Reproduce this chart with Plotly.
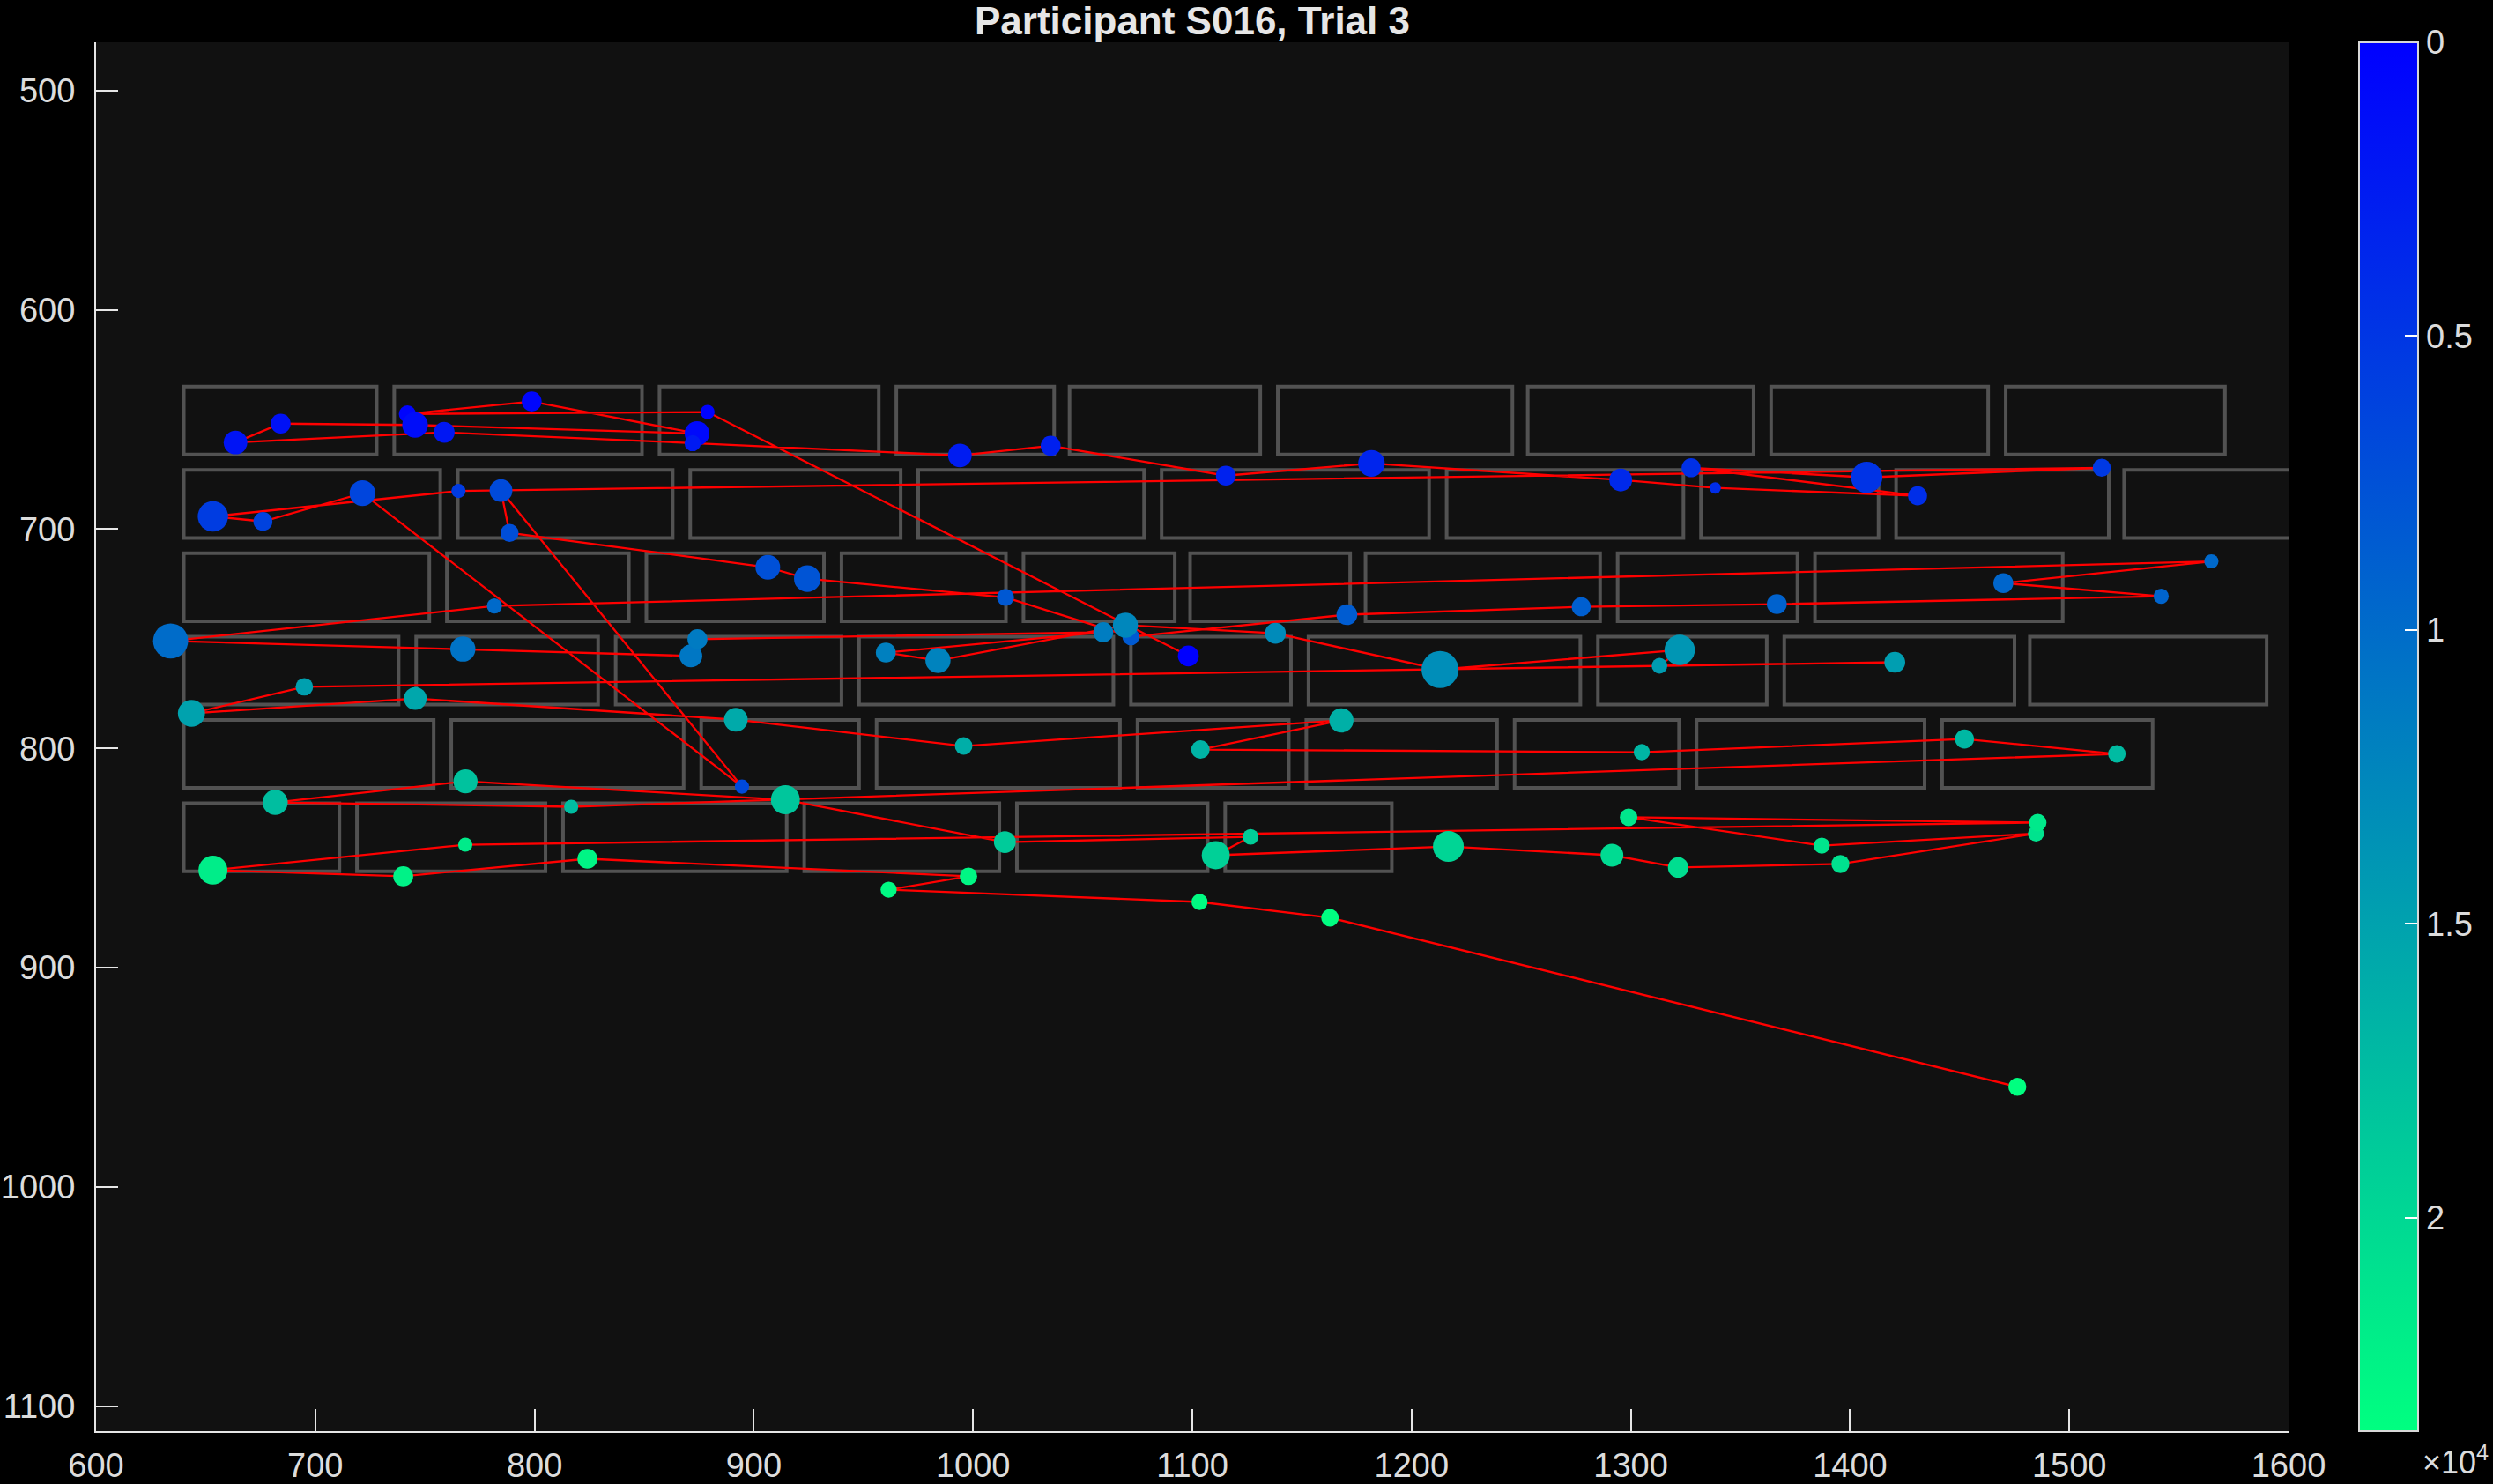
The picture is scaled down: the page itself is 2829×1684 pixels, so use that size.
import plotly.graph_objects as go

FONT = "Liberation Sans, Arial, Helvetica, sans-serif"

# ---- word boxes (text layout) ----
row_top = [635, 673, 711, 749, 787, 825]
row_bottom = [666, 704, 742, 780, 818, 856]
box_left = [
    [640, 736, 857, 965, 1044, 1139, 1253, 1364, 1471],
    [640, 765, 871, 975, 1086, 1216, 1332, 1421, 1525],
    [640, 760, 851, 940, 1023, 1099, 1179, 1294, 1384],
    [640, 746, 837, 948, 1072, 1153, 1285, 1370, 1482],
    [640, 762, 876, 956, 1075, 1152, 1247, 1330, 1442],
    [640, 719, 813, 923, 1020, 1115],
]
box_right = [
    [728, 849, 957, 1037, 1131, 1246, 1356, 1463, 1571],
    [757, 863, 967, 1078, 1208, 1324, 1413, 1518, 1630],
    [752, 843, 932, 1015, 1092, 1172, 1286, 1376, 1497],
    [738, 829, 940, 1064, 1145, 1277, 1362, 1475, 1590],
    [754, 868, 948, 1067, 1144, 1239, 1322, 1434, 1538],
    [711, 805, 915, 1012, 1107, 1191],
]

# ---- fixations in temporal order ----
fix_x = [1098.2, 878.9, 742.0, 798.7, 874.1, 745.5, 684.2, 663.6, 758.8, 872.1,
         994.0, 1035.4, 1115.3, 1181.7, 1295.4, 1338.5, 1430.8, 1327.5, 1407.6, 1514.8,
         765.3, 653.3, 676.1, 721.5, 894.6, 784.7, 788.6, 906.4, 924.4, 1014.8,
         1072.0, 1170.5, 1277.4, 1366.6, 1541.9, 1469.9, 1564.8, 781.7, 634.0, 767.3,
         871.3, 874.3, 1059.4, 960.2, 984.0, 1069.5, 1137.9, 1213.0, 1322.3, 1313.1,
         1420.4, 695.0, 643.5, 745.6, 891.8, 995.7, 1168.0, 1103.7, 1305.0, 1452.2,
         1521.7, 816.7, 681.7, 768.5, 914.4, 1014.5, 1126.6, 1110.7, 1216.8, 1291.4,
         1321.6, 1395.6, 1484.8, 1387.1, 1299.0, 1485.6, 768.4, 653.3, 740.1, 824.1,
         997.9, 961.5, 1103.3, 1162.8, 1476.3]
fix_y = [757.8, 646.6, 647.5, 641.8, 656.4, 652.5, 651.9, 660.5, 655.9, 660.8,
         666.4, 662.0, 675.6, 670.0, 677.6, 681.2, 684.8, 672.0, 676.4, 672.0,
         682.6, 694.2, 696.5, 683.6, 817.4, 682.4, 701.7, 717.4, 722.6, 731.1,
         749.1, 739.0, 735.4, 734.2, 730.6, 724.6, 714.7, 735.0, 751.0, 754.7,
         757.8, 750.2, 747.0, 756.3, 759.9, 743.8, 747.5, 764.0, 755.1, 762.3,
         760.7, 771.9, 784.0, 777.2, 786.9, 798.9, 787.2, 800.5, 801.7, 795.7,
         802.5, 826.6, 824.6, 815.0, 823.4, 842.7, 840.3, 848.7, 844.7, 848.7,
         854.3, 852.7, 838.8, 844.3, 831.4, 833.8, 843.9, 855.5, 858.3, 850.3,
         858.3, 864.4, 870.0, 877.2, 954.3]
fix_t = [0, 266, 402, 588, 832, 1194, 1583, 1827, 2163, 2429,
         2598, 2934, 3178, 3422, 3838, 4150, 4246, 4470, 4694, 5263,
         5467, 5603, 6139, 6363, 6752, 6888, 7200, 7404, 7766, 8182,
         8368, 8554, 8820, 9044, 9288, 9440, 9684, 9820, 9972, 10681,
         11056, 11368, 11612, 11856, 12100, 12475, 12850, 13116, 13900, 14436,
         14596, 14862, 15057, 15487, 15799, 16135, 16330, 16679, 16893, 17062,
         17286, 17481, 17617, 17992, 18341, 18830, 19119, 19279, 19738, 20290,
         20602, 20857, 21061, 21230, 21399, 21594, 21789, 21925, 22414, 22658,
         22902, 23097, 23266, 23435, 23630]
fix_dur = [242, 112, 162, 220, 338, 365, 220, 312, 242, 145,
           312, 220, 220, 392, 288, 72, 200, 200, 545, 180,
           112, 512, 200, 365, 112, 288, 180, 338, 392, 162,
           162, 242, 200, 220, 128, 220, 112, 128, 685, 351,
           288, 220, 220, 220, 351, 351, 242, 760, 512, 136,
           242, 171, 406, 288, 312, 171, 325, 190, 145, 200,
           171, 112, 351, 325, 465, 265, 136, 435, 528, 288,
           231, 180, 145, 145, 171, 171, 112, 465, 220, 220,
           171, 145, 145, 171, 180]

x_ticks = [600, 700, 800, 900, 1000, 1100, 1200, 1300, 1400, 1500, 1600]
y_ticks = [500, 600, 700, 800, 900, 1000, 1100]
cbar_tick_t = [0, 5000, 10000, 15000, 20000]
cbar_tick_text = ["0", "0.5", "1", "1.5", "2"]

T_MAX = max(fix_t)

fig = go.Figure()

for r in range(len(row_top)):
    for x0, x1 in zip(box_left[r], box_right[r]):
        fig.add_shape(type="rect", xref="x", yref="y", x0=x0, x1=x1,
                      y0=row_top[r], y1=row_bottom[r],
                      line=dict(color="#525252", width=4), layer="below")

fig.add_trace(go.Scatter(x=fix_x, y=fix_y, mode="lines",
                         line=dict(color="#ff0000", width=2.3),
                         hoverinfo="skip", showlegend=False))

neg_t = [-t for t in fix_t]
plot_l, plot_r, plot_t, plot_b = 109, 2597, 48, 1624
pw = plot_r - plot_l
ph = plot_b - plot_t

fig.add_trace(go.Scatter(
    x=fix_x, y=fix_y, mode="markers", showlegend=False,
    marker=dict(
        size=fix_dur, sizemode="area", sizeref=2 * max(fix_dur) / 42 ** 2,
        color=neg_t, cmin=-T_MAX, cmax=0,
        colorscale=[[0, "rgb(0,255,128)"], [1, "rgb(0,0,255)"]],
        line=dict(width=0), opacity=1,
        colorbar=dict(
            thickness=67, thicknessmode="pixels", len=1, lenmode="fraction",
            x=(2677 - plot_l) / pw, xanchor="left", y=0.5, yanchor="middle",
            xpad=0, ypad=0, outlinecolor="#d8d8d8", outlinewidth=2,
            ticks="inside", ticklen=16, tickwidth=2, tickcolor="#ffffff",
            tickvals=[-v for v in cbar_tick_t], ticktext=cbar_tick_text,
            tickfont=dict(size=38, color="#dcdcdc", family=FONT),
            bgcolor="rgba(0,0,0,0)", borderwidth=0,
        ),
    ),
))

fig.add_annotation(text="×10<sup>4</sup>", xref="paper", yref="paper",
                   x=(2826 - plot_l) / pw, y=-(1682 - plot_b) / ph,
                   xanchor="right", yanchor="bottom", showarrow=False,
                   font=dict(size=36, color="#dcdcdc", family=FONT))

axis_common = dict(ticks="inside", ticklen=25, tickwidth=2, tickcolor="#e6e6e6",
                   showline=True, linecolor="#e6e6e6", linewidth=2, mirror=False,
                   showgrid=False, zeroline=False,
                   tickfont=dict(size=38, color="#dcdcdc", family=FONT))

fig.update_layout(
    width=2829, height=1684,
    paper_bgcolor="#000000", plot_bgcolor="#111111",
    margin=dict(l=plot_l, r=2829 - plot_r, t=plot_t, b=1684 - plot_b, autoexpand=False),
    title=dict(text="Participant S016, Trial 3", x=0.5, xref="paper", xanchor="center",
               y=1 - 24 / 1684, yref="container", yanchor="middle",
               font=dict(size=44, color="#e6e6e6", family=FONT, weight="bold")),
    xaxis=dict(range=[600, 1600], tickvals=x_ticks, ticklabelstandoff=4, **axis_common),
    yaxis=dict(range=[1111.3, 478.0], tickvals=y_ticks, ticklabelstandoff=14, **axis_common),
    showlegend=False,
)

fig.write_html("out.html")
